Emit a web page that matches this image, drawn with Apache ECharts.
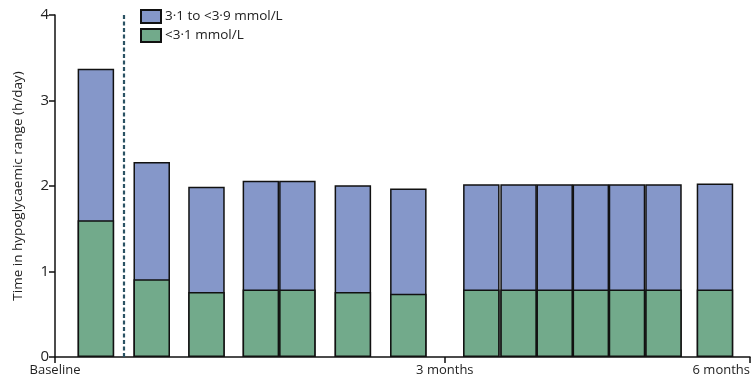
<!DOCTYPE html>
<html>
<head>
<meta charset="utf-8">
<script src="https://cdn.jsdelivr.net/npm/echarts@6/dist/echarts.min.js"></script>
<style>
html,body{margin:0;padding:0;background:#fff;}
#chart{width:756px;height:386px;}
</style>
</head>
<body>
<div id="chart"></div>
<script>
// x positions (timeline units)
var xPositions = [1.12, 2.65, 4.15, 5.64, 6.64, 8.16, 9.68, 11.68, 12.70, 13.69, 14.68, 15.67, 16.67, 18.08];
var below31 = [1.60, 0.91, 0.76, 0.79, 0.79, 0.76, 0.74, 0.79, 0.79, 0.79, 0.79, 0.79, 0.79, 0.79];
var range31to39 = [1.77, 1.37, 1.23, 1.27, 1.27, 1.25, 1.23, 1.23, 1.23, 1.23, 1.23, 1.23, 1.23, 1.24];
var tickPositions = [0, 10.68, 19.04];
var tickLabels = ['Baseline', '3 months', '6 months'];
var dashedAt = 1.89;
var seriesNames = ['3·1 to <3·9 mmol/L', '<3·1 mmol/L'];

var FONT = '"Open Sans", "Noto Sans", sans-serif';
var blue = '#8597c9';
var green = '#72aa8b';

// total height of each bar = lower band + upper band (upper band drawn behind, lower band overlaid)
var totals = below31.map(function (v, i) { return +(v + range31to39[i]).toFixed(3); });
function pairs(xs, ys) { return xs.map(function (x, i) { return [x, ys[i]]; }); }

var chart = echarts.init(document.getElementById('chart'), null, {renderer: 'canvas'});
chart.setOption({
  animation: false,
  grid: {left: 55, right: 6, top: 15, bottom: 29, containLabel: false},
  legend: {
    orient: 'vertical', left: 135, top: 4, itemWidth: 20, itemHeight: 13, itemGap: 4,
    data: [seriesNames[0], seriesNames[1]],
    textStyle: {fontFamily: FONT, fontSize: 13.5, color: '#222', padding: [0, 0, 0, -1]},
    icon: 'rect'
  },
  xAxis: {
    type: 'value', min: 0, max: tickPositions[2],
    splitLine: {show: false},
    axisLine: {show: true, onZero: false, lineStyle: {color: '#111', width: 1.5}},
    axisTick: {show: true, length: 6, inside: false, customValues: tickPositions, lineStyle: {color: '#111', width: 1.5}},
    axisLabel: {
      customValues: tickPositions, margin: 7, fontFamily: FONT, fontSize: 13, color: '#222',
      alignMaxLabel: 'right',
      formatter: function (v) {
        var i = tickPositions.indexOf(v);
        return i >= 0 ? tickLabels[i] : '';
      }
    }
  },
  yAxis: {
    type: 'value', min: 0, max: 4, interval: 1,
    name: 'Time in hypoglycaemic range (h/day)', nameLocation: 'middle', nameGap: 30,
    nameTextStyle: {fontFamily: FONT, fontSize: 13.5, color: '#222'},
    splitLine: {show: false},
    axisLine: {show: true, lineStyle: {color: '#111', width: 1.5}},
    axisTick: {show: true, length: 6, lineStyle: {color: '#111', width: 1.5}},
    axisLabel: {margin: 6, fontFamily: FONT, fontSize: 15, color: '#222'}
  },
  series: [
    {
      name: seriesNames[0], type: 'bar', barWidth: 36.5, barGap: '-100%',
      data: pairs(xPositions, totals),
      itemStyle: {color: blue, borderColor: '#111', borderWidth: 1.5},
      markLine: {
        silent: true, symbol: 'none', label: {show: false},
        lineStyle: {color: '#2a5263', type: [4, 2.5], width: 2.2},
        data: [{xAxis: dashedAt}]
      }
    },
    {
      name: seriesNames[1], type: 'bar', barWidth: 36.5, barGap: '-100%',
      data: pairs(xPositions, below31),
      itemStyle: {color: green, borderColor: '#111', borderWidth: 1.5}
    }
  ]
});
</script>
</body>
</html>
